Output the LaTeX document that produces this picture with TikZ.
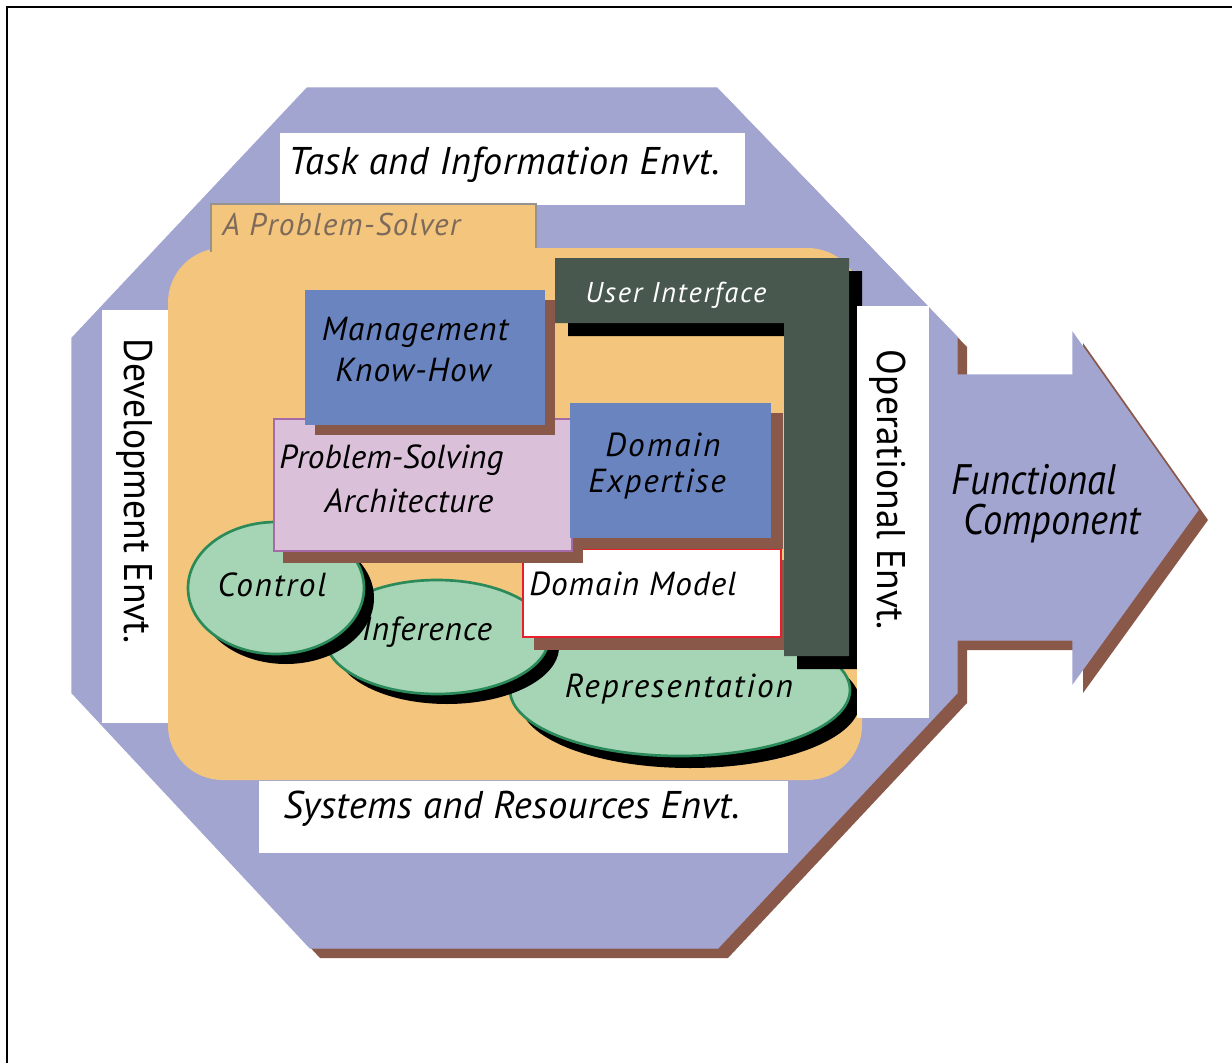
\documentclass[tikz,border=0pt]{standalone}
\usepackage{fontspec}
\setmainfont{PT Sans}
\newfontfamily\narrowf{PT Sans}[FakeStretch=0.9]
\newfontfamily\sidef{PT Sans}[FakeStretch=0.94]
\definecolor{lav}{HTML}{A3A5D1}
\definecolor{brn}{HTML}{8A5849}
\definecolor{org}{HTML}{F3C57D}
\definecolor{blu}{HTML}{6A84C0}
\definecolor{pnk}{HTML}{DBC0DA}
\definecolor{pbrd}{HTML}{A56BA8}
\definecolor{grn}{HTML}{A5D5B4}
\definecolor{gbrd}{HTML}{2A8A5A}
\definecolor{dui}{HTML}{48584E}
\definecolor{red}{HTML}{E8202E}
\definecolor{tabg}{HTML}{949390}
\definecolor{tabt}{HTML}{7D6A5B}
\newcommand{\fsz}[1]{\fontsize{#1}{#1}\selectfont}
\newcommand{\ls}[1]{\addfontfeature{LetterSpace=#1}}
\tikzset{
  lbl/.style={inner sep=0pt, font=\itshape\fsz{25pt}},
  envlbl/.style={inner sep=0pt, font=\itshape\fsz{29pt}},
  sidelbl/.style={inner sep=0pt, font=\sidef\fsz{30pt}, rotate=-90},
  ell/.style={fill=grn, draw=gbrd, line width=2pt},
}
\begin{document}
\begin{tikzpicture}[x=0.75pt,y=-0.75pt]
\useasboundingbox (0,0) rectangle (1232,1063);
\draw[line width=1.5pt] (7,1063) -- (7,7) -- (1232,7);
% octagon + arrow
\def\outline{(307,88) -- (717,88) -- (957,337) -- (957,375) -- (1073,375) -- (1073,333) -- (1198,510) -- (1073,683) -- (1073,640) -- (957,640) -- (957,693) -- (718,948) -- (310,948) -- (72,693) -- (72,338) -- cycle}
\fill[brn, shift={(10,10)}] \outline;
\filldraw[fill=lav, draw=lav, line width=0.8pt] \outline;
% white label boxes
\fill[white] (280,133) rectangle (745,205);
\fill[white] (102,310) rectangle (168,723);
\fill[white] (259,781) rectangle (788,853);
% problem solver region
\fill[org, rounded corners=41pt] (168,248) rectangle (862,780);
\fill[org] (211,204) rectangle (536,252);
\draw[tabg, line width=2pt] (211,252) -- (211,204) -- (536,204) -- (536,248);
% ellipses
\fill[black] (690,702) ellipse [x radius=170, y radius=66];
\draw[ell] (680,690) ellipse [x radius=170, y radius=66];
\fill[black] (447,647) ellipse [x radius=112, y radius=57];
\draw[ell] (437,637) ellipse [x radius=112, y radius=57];
\fill[black] (286,598) ellipse [x radius=88, y radius=66];
\draw[ell] (276,588) ellipse [x radius=88, y radius=66];
% domain model
\fill[brn] (534,560) rectangle (794,650);
\draw[fill=white, draw=red, line width=2pt] (523,549) rectangle (781,637);
% problem-solving architecture
\fill[brn] (283,430) rectangle (583,563);
\draw[fill=pnk, draw=pbrd, line width=2pt] (274,419) rectangle (572,551);
% management
\fill[brn] (315,300) rectangle (555,435);
\fill[blu] (305,290) rectangle (545,425);
% domain expertise
\fill[brn] (582,413) rectangle (783,549);
\fill[blu] (570,403) rectangle (771,538);
% user interface
\fill[black, shift={(13,13)}] (555,258) -- (849,258) -- (849,656) -- (784,656) -- (784,323) -- (555,323) -- cycle;
\fill[dui] (555,258) -- (849,258) -- (849,656) -- (784,656) -- (784,323) -- (555,323) -- cycle;
% operational box
\fill[white] (857,306) rectangle (929,718);
% texts
\node[envlbl, anchor=west, font=\itshape\fsz{29pt}\ls{1.5}] (task) at (288,165) {Task and Information Envt.};
\node[envlbl, anchor=west, font=\itshape\fsz{29pt}\ls{1}] (sys) at (283,809) {Systems and Resources Envt.};
\node[inner sep=0pt, font=\itshape\fsz{23.5pt}\ls{4}, text=tabt, anchor=west] (ps) at (222,225) {A Problem-Solver};
\node[inner sep=0pt, font=\itshape\fsz{21.5pt}\ls{6}, text=white, anchor=west] (ui) at (585,295) {User Interface};
\node[lbl, font=\itshape\fsz{25pt}\ls{3.5}] (mk1) at (415,332) {Management};
\node[lbl, font=\itshape\fsz{25pt}\ls{3.5}] (mk2) at (413,370) {Know-How};
\node[lbl, anchor=west] (psa1) at (279,460) {Problem-Solving};
\node[lbl, font=\itshape\fsz{25pt}\ls{1.5}] (psa2) at (409,501) {Architecture};
\node[lbl, font=\itshape\fsz{25pt}\ls{6}] (de1) at (663,445) {Domain};
\node[lbl, font=\itshape\fsz{25pt}\ls{5}] (de2) at (657,484) {Expertise};
\node[lbl, anchor=west, font=\itshape\fsz{25pt}\ls{3}] (dm) at (529,584) {Domain Model};
\node[lbl, font=\itshape\fsz{25pt}\ls{5.5}] (ctl) at (272,585) {Control};
\node[lbl, font=\itshape\fsz{25pt}\ls{2.5}] (inf) at (427,632) {Inference};
\node[lbl, font=\itshape\fsz{25pt}\ls{6}] (rep) at (679,689) {Representation};
\node[inner sep=0pt, font=\narrowf\itshape\fsz{32pt}] (fc1) at (1034,480) {Functional};
\node[inner sep=0pt, font=\narrowf\itshape\fsz{32pt}] (fc2) at (1052,524) {Component};
\node[sidelbl] (dev) at (135,491) {Development Envt.};
\node[sidelbl] (ope) at (888,490) {Operational Envt.};
\end{tikzpicture}
\end{document}
